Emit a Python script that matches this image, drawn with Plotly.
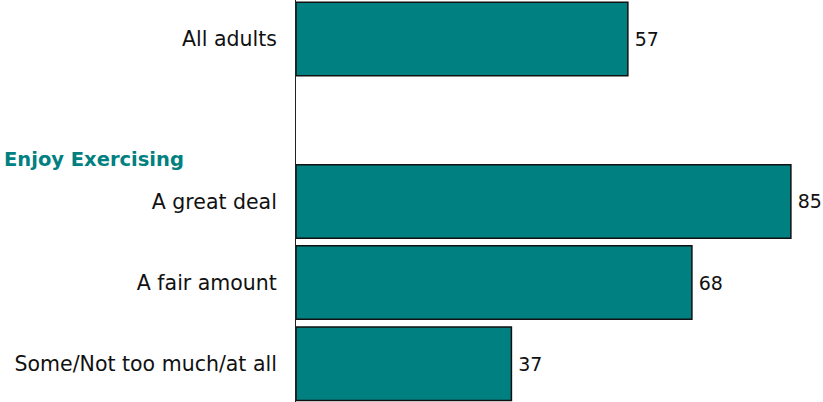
import plotly.graph_objects as go

# Share of adults (%) by how much they enjoy exercising
categories = ["All adults", " ", "A great deal", "A fair amount", "Some/Not too much/at all"]
values = [57, None, 85, 68, 37]
group_header = "Enjoy Exercising"

TEAL = "#008080"
FONT = "DejaVu Sans"

fig = go.Figure(
    go.Bar(
        x=values,
        y=categories,
        orientation="h",
        marker=dict(color=TEAL, line=dict(color="#111111", width=1.5)),
        texttemplate="\u2009%{x}",
        textposition="outside",
        textfont=dict(family=FONT, size=19, color="#111111"),
        cliponaxis=False,
        hoverinfo="skip",
    )
)

fig.add_annotation(
    text=group_header,
    xref="paper", yref="y",
    x=-0.561, y=1.48,
    xanchor="left", yanchor="middle",
    showarrow=False,
    font=dict(family=FONT, size=19.5, color=TEAL, weight="bold"),
)

fig.update_layout(
    width=823, height=402,
    margin=dict(l=296, r=3, t=0, b=0),
    paper_bgcolor="white",
    plot_bgcolor="white",
    bargap=0.095,
    showlegend=False,
    font=dict(family=FONT, size=20.5, color="#111111"),
)
fig.update_xaxes(range=[0, 90], visible=False)
fig.update_yaxes(
    type="category",
    categoryorder="array",
    categoryarray=categories,
    range=[4.47, -0.48],
    showline=True, linecolor="#222222", linewidth=1,
    showgrid=False, zeroline=False,
    ticks="", ticklabelstandoff=14,
    tickfont=dict(family=FONT, size=20.5, color="#111111"),
)

fig.write_html("out.html")
